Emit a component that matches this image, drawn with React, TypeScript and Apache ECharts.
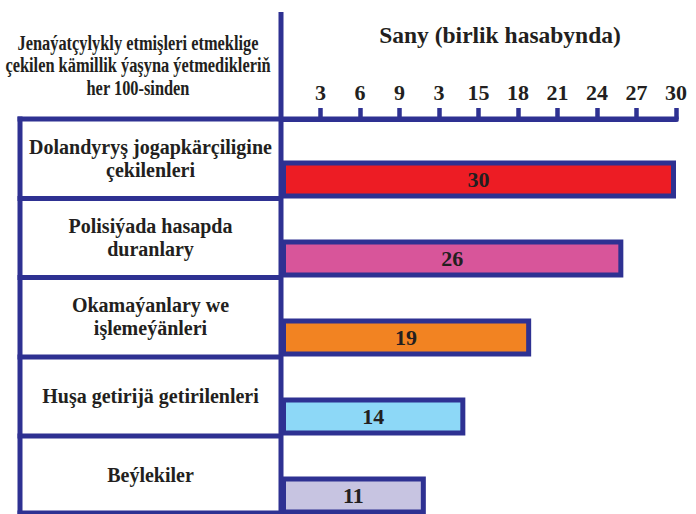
import React, { useEffect, useRef } from "react";
import * as echarts from "echarts";

const categories = [
  "Dolandyryş jogapkärçiligine\nçekilenleri",
  "Polisiýada hasapda\nduranlary",
  "Okamaýanlary we\nişlemeýänleri",
  "Huşa getirijä getirilenleri",
  "Beýlekiler",
];
const values = [30, 26, 19, 14, 11];
const barColors = ["#ED1C24", "#D8559A", "#F28322", "#8DD8F7", "#C7C4E1"];
const tickLabels = ["3", "6", "9", "3", "15", "18", "21", "24", "27", "30"];
const headerText = "Jenaýatçylykly etmişleri etmeklige\nçekilen kämillik ýaşyna ýetmedikleriň\nher 100-sinden";
const axisTitle = "Sany (birlik hasabynda)";

const NAVY = "#2E3192";
const TEXT = "#231F20";
const FONT = "'Liberation Serif', 'Times New Roman', serif";

export default function App() {
  const ref = useRef<HTMLDivElement>(null);
  useEffect(() => {
    if (!ref.current) return;
    const chart = echarts.init(ref.current, null, { renderer: "svg" });
    const rowSeps = [198.5, 277.5, 357, 436, 513];
    chart.setOption({
      animation: false,
      grid: [
        {
          left: 281,
          top: 140,
          width: 395,
          height: 395,
          containLabel: false,
          outerBoundsMode: "none",
        },
        {
          left: 20,
          top: 119,
          width: 261,
          height: 395,
          containLabel: false,
          outerBoundsMode: "none",
        },
      ],
      xAxis: [
        {
          type: "value",
          gridIndex: 0,
          position: "top",
          offset: 21,
          min: 0,
          max: 30,
          interval: 3,
          axisLine: { show: true, lineStyle: { color: NAVY, width: 5 } },
          axisTick: { show: true, length: 11, lineStyle: { color: NAVY, width: 4.5 } },
          splitLine: { show: false },
          axisLabel: {
            showMinLabel: false,
            margin: 16,
            fontFamily: FONT,
            fontWeight: "bold",
            fontSize: 22,
            color: TEXT,
            formatter: (v: number) => {
              const i = Math.round(v / 3) - 1;
              return i >= 0 && i < tickLabels.length ? tickLabels[i] : "";
            },
          },
        },
        {
          type: "value",
          gridIndex: 1,
          show: false,
        },
      ],
      yAxis: [
        {
          type: "category",
          gridIndex: 0,
          inverse: true,
          data: categories,
          axisLine: { show: false },
          axisTick: { show: false },
          splitLine: { show: false },
          axisLabel: { show: false },
        },
        {
          type: "category",
          gridIndex: 1,
          position: "right",
          inverse: true,
          data: categories,
          axisLine: { show: false },
          axisTick: { show: false },
          splitLine: { show: false },
          axisLabel: {
            interval: 0,
            inside: false,
            align: "center",
            margin: -130.5,
            fontFamily: FONT,
            fontWeight: "bold",
            fontSize: 20,
            lineHeight: 23.5,
            color: TEXT,
          },
        },
      ],
      series: [
        {
          type: "bar",
          xAxisIndex: 0,
          yAxisIndex: 0,
          barWidth: 38,
          data: values.map((v, i) => ({
            value: v,
            itemStyle: { color: barColors[i], borderColor: NAVY, borderWidth: 5 },
          })),
          label: {
            show: true,
            position: "inside",
            fontFamily: FONT,
            fontWeight: "bold",
            fontSize: 22,
            color: TEXT,
            textBorderWidth: 0,
          },
          z: 2,
        },
      ],
      graphic: [
        {
          type: "text",
          x: 138,
          y: 65,
          scaleX: 0.78,
          style: {
            text: headerText,
            fontFamily: FONT,
            fontWeight: "bold",
            fontSize: 21,
            lineHeight: 22.5,
            fill: TEXT,
            align: "center",
            verticalAlign: "middle",
          },
        },
        {
          type: "text",
          x: 500,
          y: 35,
          scaleX: 1,
          style: {
            text: axisTitle,
            fontFamily: FONT,
            fontWeight: "bold",
            fontSize: 23.5,
            fill: TEXT,
            align: "center",
            verticalAlign: "middle",
          },
        },
        {
          type: "line",
          z: 10,
          shape: { x1: 281, y1: 12, x2: 281, y2: 514 },
          style: { stroke: NAVY, lineWidth: 5 },
        },
        {
          type: "line",
          z: 10,
          shape: { x1: 17.5, y1: 119, x2: 678.5, y2: 119 },
          style: { stroke: NAVY, lineWidth: 5 },
        },
        {
          type: "line",
          z: 10,
          shape: { x1: 20, y1: 116.5, x2: 20, y2: 514 },
          style: { stroke: NAVY, lineWidth: 5 },
        },
        ...rowSeps.map((y) => ({
          type: "line",
          z: 10,
          shape: { x1: 17.5, y1: y, x2: 281, y2: y },
          style: { stroke: NAVY, lineWidth: 5 },
        })),
      ],
    });
    return () => chart.dispose();
  }, []);
  return (
    <div
      ref={ref}
      style={{ position: "absolute", left: 0, top: 0, width: 696, height: 514, background: "#fff" }}
    />
  );
}
